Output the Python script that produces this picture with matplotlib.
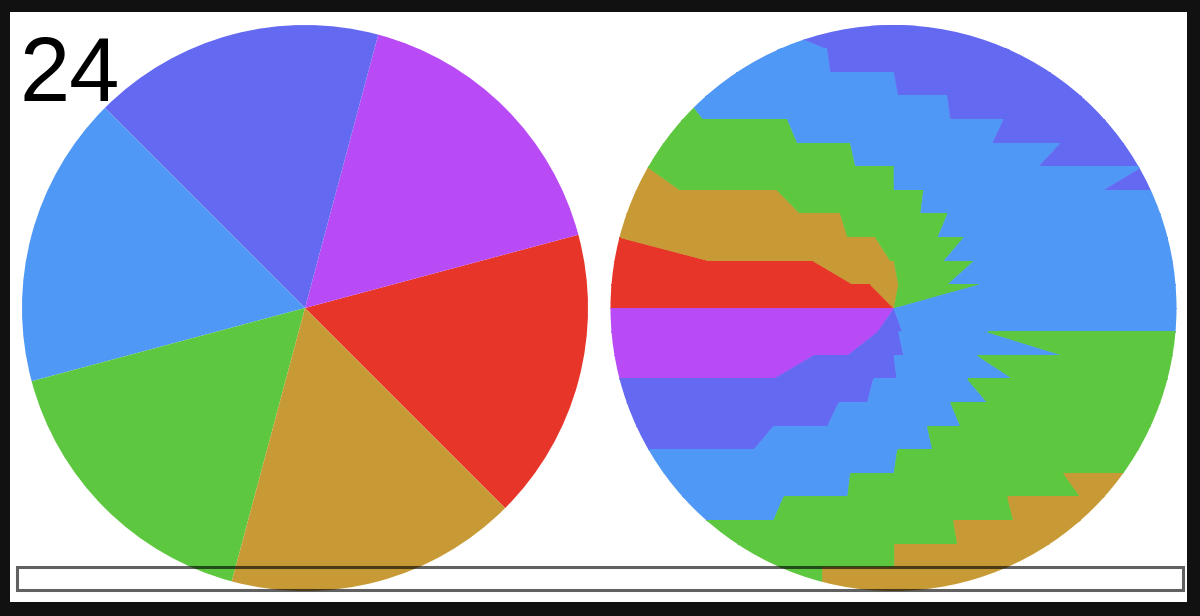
import matplotlib
matplotlib.use("Agg")
import matplotlib.pyplot as plt
from matplotlib.patches import Circle, Rectangle

# Slice palette
COLORS = {
    "R": "#E8352A",  # red
    "P": "#B84BF5",  # purple
    "I": "#6469F2",  # indigo
    "B": "#4F98F5",  # blue
    "G": "#5DC83F",  # green
    "O": "#C79A35",  # ochre
}

# Left pie: six equal slices, counter-clockwise from -45 degrees
SLICE_KEYS = ["R", "P", "I", "B", "G", "O"]
SLICE_VALUES = [1, 1, 1, 1, 1, 1]

FRAME_LABEL = "24"

# Right disc: 24 horizontal strips (top to bottom); each strip is a run of
# colours separated by slanted boundaries, given at the strip's top and bottom
# edge in units of the disc radius.
ROW_KEYS = ["BI", "BI", "BI", "GBI", "GBI", "GBI", "OGBI", "OGB", "OGB",
            "ROGB", "ROGB", "ROGB", "PIB", "PIBG", "PIBG", "IBG", "IBG", "IBG",
            "BG", "BGO", "BGO", "GO", "GO", "GO"]
ROW_TOP = [[-0.44], [-0.235], [0.0], [-0.737, 0.189], [-0.376, 0.387],
           [-0.154, 0.588], [-0.871, 0.0, 0.878], [-0.412, 0.104],
           [-0.189, 0.189], [-0.966, -0.065, 0.246], [-0.284, 0.0, 0.281],
           [-0.083, 0.016, 0.299], [0.0, 0.0], [-0.058, 0.016, 0.33],
           [-0.284, 0.0, 0.295], [-0.073, 0.26], [-0.196, 0.2],
           [-0.426, 0.118], [0.012], [-0.154, 0.599], [-0.39, 0.401],
           [0.21], [0.0], [-0.253]]
ROW_BOTTOM = [[-0.235], [-0.224], [0.016], [-0.673, 0.2], [-0.341, 0.348],
              [-0.136, 0.511], [-0.754, 0.0, 0.74], [-0.33, 0.094],
              [-0.164, 0.154], [-0.648, -0.012, 0.175], [-0.143, 0.016, 0.189],
              [0.0, 0.0, 0.0], [-0.058, 0.03], [-0.164, 0.034, 0.599],
              [-0.426, 0.01, 0.422], [-0.094, 0.33], [-0.235, 0.235],
              [-0.496, 0.136], [0.0], [-0.164, 0.659], [-0.426, 0.422],
              [0.224], [0.0], [-0.253]]

W, H = 1200, 616
fig = plt.figure(figsize=(W / 100, H / 100), dpi=100, facecolor="#111111")

# white canvas inside the dark border
fig.add_artist(Rectangle((10 / W, 1 - 602 / H), 1177 / W, 590 / H,
                         transform=fig.transFigure, facecolor="white",
                         edgecolor="none", zorder=-1))


def disc_axes(cx, cy, r):
    ax = fig.add_axes([(cx - r) / W, 1 - (cy + r) / H, 2 * r / W, 2 * r / H])
    ax.set_axis_off()
    ax.patch.set_alpha(0)
    return ax


# left pie
ax1 = disc_axes(305, 308, 283)
ax1.pie(SLICE_VALUES, colors=[COLORS[k] for k in SLICE_KEYS], startangle=-45,
        counterclock=True, radius=1, wedgeprops=dict(linewidth=0))
ax1.set_xlim(-1, 1)
ax1.set_ylim(-1, 1)
ax1.set_aspect("equal")

# right striped disc
ax2 = disc_axes(893.5, 308, 283)
ax2.set_xlim(-1, 1)
ax2.set_ylim(-1, 1)
ax2.set_aspect("equal")
clip = Circle((0, 0), 1, transform=ax2.transData)
n_rows = len(ROW_KEYS)
h = 2.0 / n_rows
for k, keys in enumerate(ROW_KEYS):
    y_top = 1 - k * h
    y_bot = y_top - h
    tops = [-1.1] + ROW_TOP[k] + [1.1]
    bots = [-1.1] + ROW_BOTTOM[k] + [1.1]
    for j, key in enumerate(keys):
        c = COLORS[key]
        poly = ax2.fill_betweenx([y_top, y_bot], [tops[j], bots[j]],
                                 [tops[j + 1], bots[j + 1]],
                                 facecolor=c, edgecolor=c, linewidth=0.4)
        poly.set_clip_path(clip)

# frame number
fig.text(19 / W, 1 - 101 / H, FRAME_LABEL, fontsize=65,
         family="Liberation Sans", color="black", va="baseline", ha="left")

# slider track along the bottom
fig.add_artist(Rectangle((17 / W, 1 - 590 / H), 1166 / W, 23 / H,
                         transform=fig.transFigure, facecolor="none",
                         edgecolor=(0, 0, 0, 0.62), linewidth=2.2, zorder=5))

fig.savefig("out.png", dpi=100, facecolor=fig.get_facecolor())
